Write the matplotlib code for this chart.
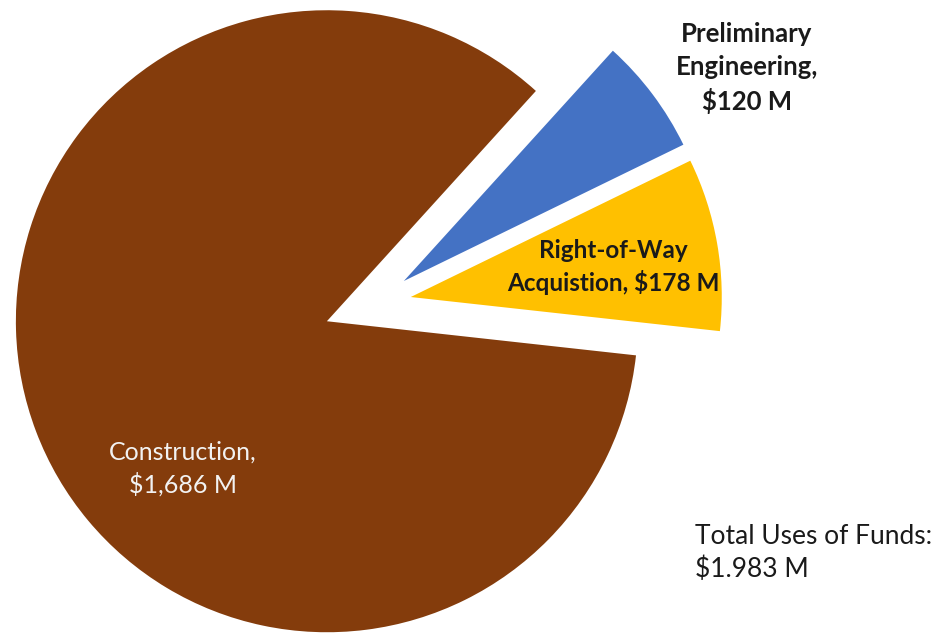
import matplotlib
matplotlib.use("Agg")
import matplotlib.pyplot as plt

categories = ["Right-of-Way Acquistion", "Preliminary Engineering", "Construction"]
values = [178, 120, 1686]
labels = ["Right-of-Way\nAcquistion, $178 M", "Preliminary\nEngineering,\n$120 M", "Construction,\n$1,686 M"]
colors = ["#FFC000", "#4472C4", "#843C0C"]
explode_frac = [0.12, 0.12, 0.162]
total_text = "Total Uses of Funds:\n$1.983 M"

W, H = 934, 635
fig = plt.figure(figsize=(W / 100, H / 100), dpi=100)
ax = fig.add_axes([0, 0, 1, 1])

R = 311
center = (374, H - 303.4)
wedges, _ = ax.pie(values, colors=colors, explode=[f * R for f in explode_frac],
                   startangle=-6.3, counterclock=True, radius=R, center=center,
                   frame=True, wedgeprops=dict(linewidth=0))
ax.set_xlim(0, W)
ax.set_ylim(0, H)
ax.set_aspect("equal")
ax.axis("off")

font = "Lato"
ax.text(613, H - 267, labels[0], ha="center", va="center", fontsize=17.5,
        fontweight="bold", family=font, color="#1a1a1a", linespacing=1.42)
ax.text(747, H - 68, labels[1], ha="center", va="center", fontsize=18.5,
        fontweight="bold", family=font, color="#1a1a1a", linespacing=1.42)
ax.text(183, H - 469, labels[2], ha="center", va="center", fontsize=18,
        family=font, color="#F2F2F2", linespacing=1.42)
ax.text(695, H - 553, total_text, ha="left", va="center", fontsize=19,
        family=font, color="#1a1a1a", linespacing=1.4)

fig.savefig("out.png", dpi=100)
